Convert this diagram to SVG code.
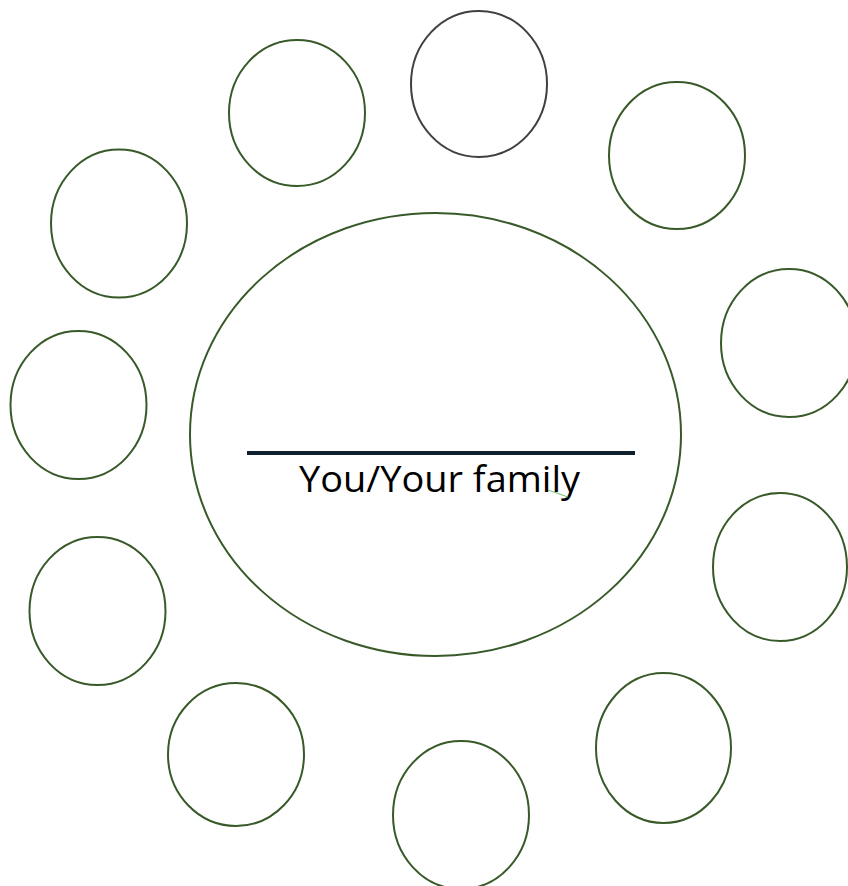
<svg xmlns="http://www.w3.org/2000/svg" width="848" height="886" viewBox="0 0 848 886">
  <style>
    .c { fill: #ffffff; stroke: #375a28; stroke-width: 2; }
    .g { fill: #ffffff; stroke: #404040; stroke-width: 2; }
    .t { font-family: "Open Sans", "Noto Sans", sans-serif; font-size: 36px; fill: #000000; }
  </style>
  <rect width="848" height="886" fill="#ffffff"/>
  <g id="n-top"><ellipse class="g" cx="479" cy="84" rx="68" ry="73"/></g>
  <g id="n-top-left"><ellipse class="c" cx="297" cy="113" rx="68" ry="73"/></g>
  <g id="n-top-right"><ellipse class="c" cx="677" cy="155.5" rx="68" ry="73.5"/></g>
  <g id="n-left-upper"><ellipse class="c" cx="119" cy="223.5" rx="68" ry="74"/></g>
  <g id="n-right-upper"><ellipse class="c" cx="789" cy="343" rx="68" ry="74"/></g>
  <g id="n-left-middle"><ellipse class="c" cx="78.5" cy="405" rx="68" ry="74"/></g>
  <g id="n-center">
    <ellipse class="c" cx="435.5" cy="434.5" rx="245.5" ry="221.5"/>
    <line x1="247" y1="453" x2="635" y2="453" stroke="#0f1f2e" stroke-width="4"/>
    <text class="t" x="299" y="492" textLength="281" lengthAdjust="spacingAndGlyphs">You/Your family</text>
    <line x1="548" y1="490" x2="568" y2="497" stroke="#6fbf6f" stroke-width="1"/>
  </g>
  <g id="n-right-lower"><ellipse class="c" cx="780" cy="567" rx="67" ry="74"/></g>
  <g id="n-left-lower"><ellipse class="c" cx="97.5" cy="611" rx="68" ry="74"/></g>
  <g id="n-bottom-left"><ellipse class="c" cx="236" cy="754.5" rx="68" ry="71.5"/></g>
  <g id="n-bottom-right"><ellipse class="c" cx="663.5" cy="748" rx="67.5" ry="75"/></g>
  <g id="n-bottom"><ellipse class="c" cx="461" cy="815" rx="68" ry="74"/></g>
  <g id="connectors"></g>
</svg>
